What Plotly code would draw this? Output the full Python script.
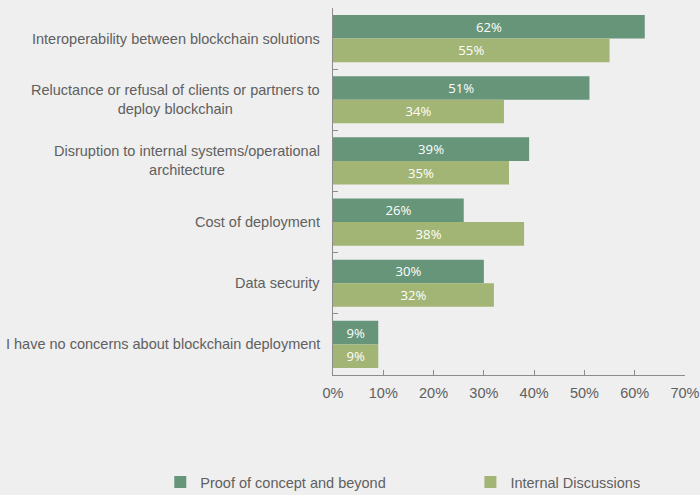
import plotly.graph_objects as go

categories = [
    "Interoperability between blockchain solutions",
    "Reluctance or refusal of clients or partners to<br>deploy blockchain",
    "Disruption to internal systems/operational<br>architecture",
    "Cost of deployment",
    "Data security",
    "I have no concerns about blockchain deployment",
]
proof_of_concept = [62, 51, 39, 26, 30, 9]
internal_discussions = [55, 34, 35, 38, 32, 9]
x_ticks = [0, 10, 20, 30, 40, 50, 60, 70]

FONT = "Liberation Sans, Arial, sans-serif"
TXT = "#606060"

fig = go.Figure()
fig.add_trace(go.Bar(
    y=categories, x=proof_of_concept, orientation="h",
    name="Proof of concept and beyond", legend="legend",
    marker=dict(color="#66957A", line=dict(width=0)),
    text=[f"{v}%" for v in proof_of_concept],
    textposition="inside", insidetextanchor="middle",
    textfont=dict(color="white", size=13.5, family="Open Sans"),
))
fig.add_trace(go.Bar(
    y=categories, x=internal_discussions, orientation="h",
    name="Internal Discussions", legend="legend2",
    marker=dict(color="#A2B574", line=dict(width=0)),
    text=[f"{v}%" for v in internal_discussions],
    textposition="inside", insidetextanchor="middle",
    textfont=dict(color="white", size=13.5, family="Open Sans"),
))

for c in categories:
    fig.add_annotation(
        x=0, xref="paper", y=c, yref="y", xanchor="right", yanchor="middle",
        xshift=-11, text=c, showarrow=False, align="center",
        font=dict(family=FONT, size=14.5, color=TXT),
    )

legend_common = dict(orientation="h", xref="container", yref="container",
                     y=0.026, xanchor="left", yanchor="middle",
                     bgcolor="rgba(0,0,0,0)",
                     font=dict(family=FONT, size=14.5, color=TXT))

fig.update_layout(
    width=700, height=495,
    margin=dict(l=333, r=15, t=8, b=120, autoexpand=False),
    paper_bgcolor="#efefef", plot_bgcolor="rgba(0,0,0,0)",
    barmode="group", bargap=0.23, bargroupgap=0,
    font=dict(family=FONT, color=TXT, size=14.5),
    showlegend=True,
    legend=dict(x=0.229, **legend_common),
    legend2=dict(x=0.672, **legend_common),
    uniformtext=dict(minsize=8, mode="show"),
)
fig.update_xaxes(
    range=[0, 70], tickvals=x_ticks, ticktext=[f"{v}%" for v in x_ticks],
    automargin=False, ticklabelstandoff=5,
    showgrid=False, zeroline=False, showline=True, linecolor="#8c8c8c", linewidth=1,
    ticks="inside", ticklen=5, tickcolor="#8c8c8c",
    tickfont=dict(family=FONT, size=14.5, color=TXT),
)
fig.update_yaxes(
    autorange="reversed", automargin=False, showticklabels=False,
    showgrid=False, showline=True, linecolor="#8c8c8c", linewidth=1,
    ticks="inside", ticklen=5, tickcolor="#8c8c8c", tickson="boundaries",
)

fig.write_html("out.html")
